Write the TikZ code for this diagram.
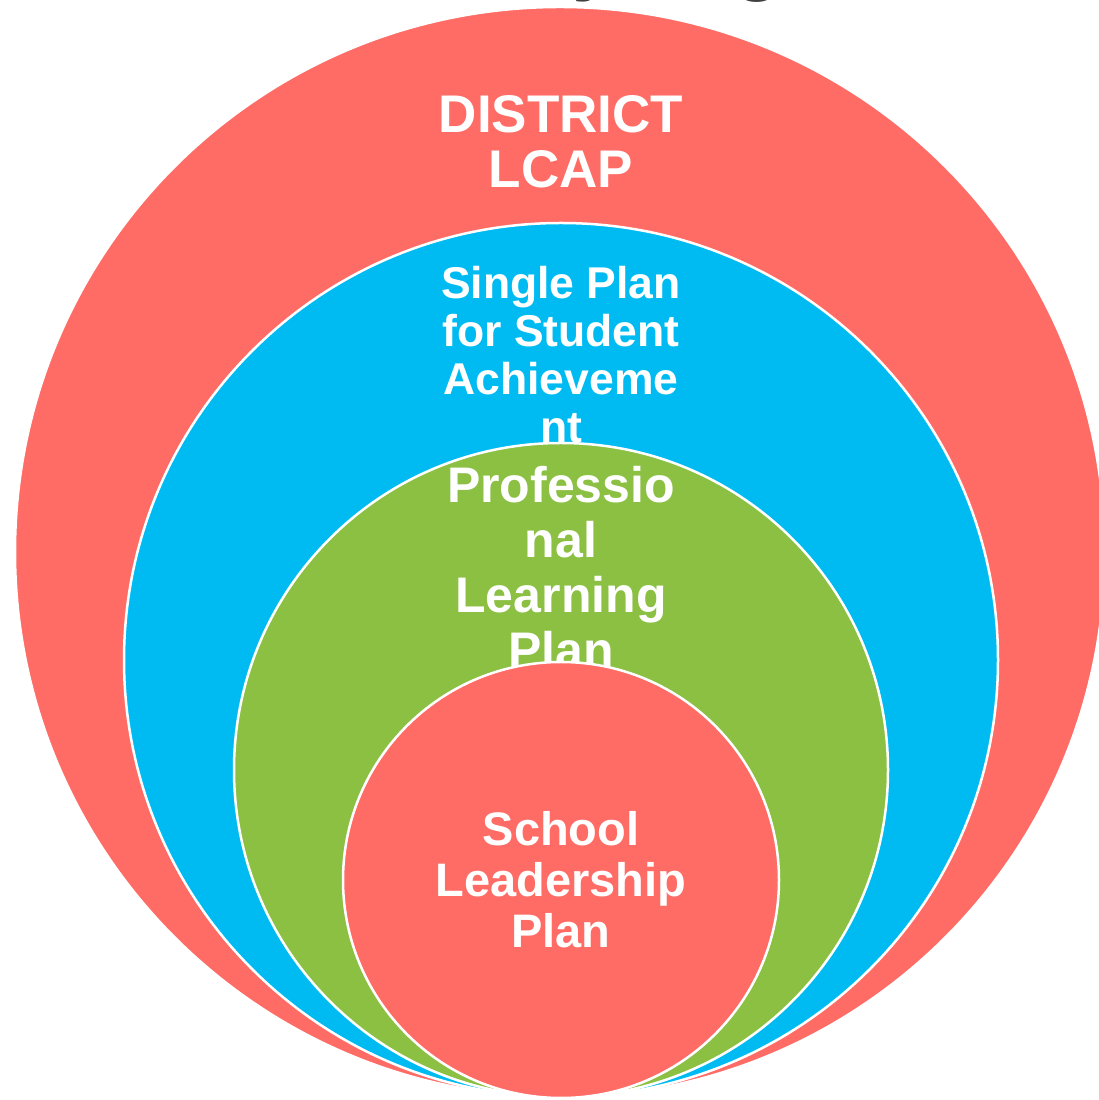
\documentclass[tikz,border=0pt]{standalone}
\usepackage{fontspec}
\setmainfont{Liberation Sans}
\definecolor{cred}{HTML}{FF6B65}
\definecolor{cblue}{HTML}{00BBF1}
\definecolor{cgreen}{HTML}{8BC043}
\definecolor{ctitle}{HTML}{404040}
\begin{document}
\begin{tikzpicture}[x=1pt,y=1pt,
  ring/.style={fill=#1, draw=white, line width=2.5pt},
  lbl/.style={text=white, align=center, inner sep=0pt},
  titlefrag/.style={text=ctitle, inner sep=0pt, font=\fontsize{80}{90}\selectfont\bfseries}]
\useasboundingbox (0,0) rectangle (1099,1100);
\begin{scope}
\clip (0,0) rectangle (1099,1100);
\node[titlefrag, anchor=base west] (t1) at (572,1114.5) {y};
\node[titlefrag, anchor=base west] (t2) at (733,1114) {g};
\draw[ring=cred] (560,548) circle (545);
\node[lbl, font=\fontsize{53}{55}\selectfont\bfseries] (district) at (561,958) {DISTRICT\\LCAP};
\draw[ring=cblue] (561,440) circle (437);
\node[lbl, font=\fontsize{44.5}{48}\selectfont\bfseries] (spsa) at (561,745) {Single Plan\\for Student\\Achieveme\\nt};
\draw[ring=cgreen] (561,330) circle (327);
\node[lbl, font=\fontsize{50}{55}\selectfont\bfseries] (plp) at (561,533) {Professio\\nal\\Learning\\Plan};
\draw[ring=cred] (561,220) circle (218);
\node[lbl, font=\fontsize{47}{51}\selectfont\bfseries] (slp) at (561,220) {School\\Leadership\\Plan};
\end{scope}
\end{tikzpicture}
\end{document}
